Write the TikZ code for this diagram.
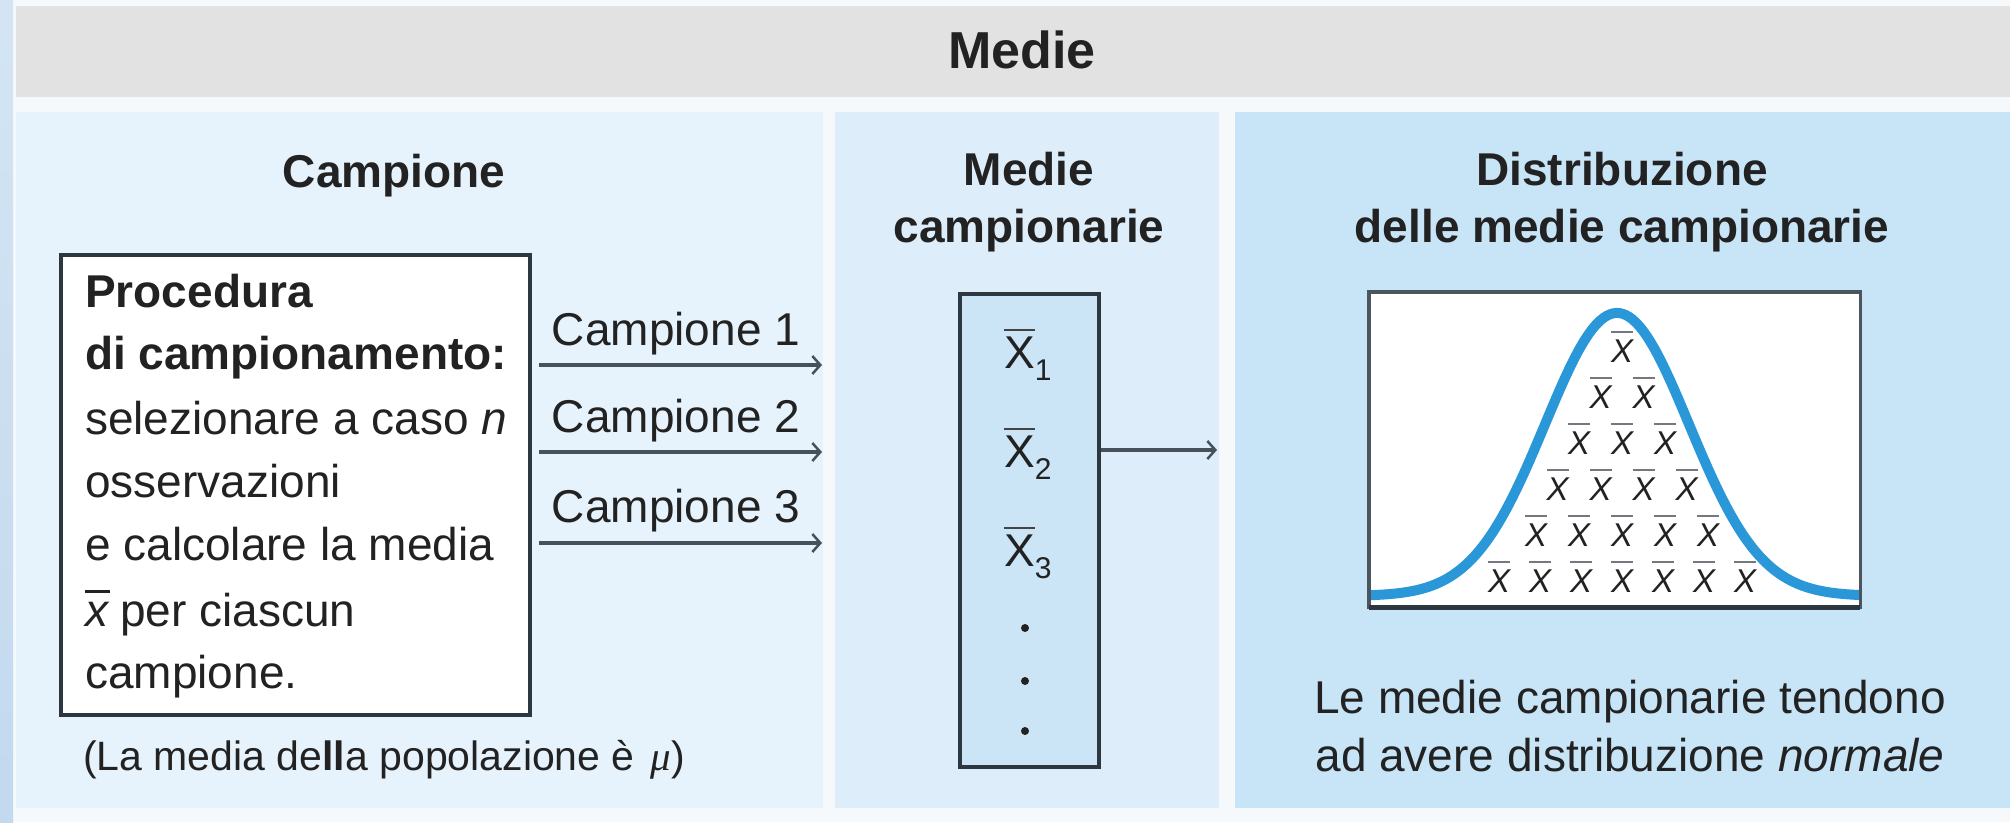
\documentclass[tikz,border=0pt]{standalone}
\usepackage{fontspec}
\setmainfont{Liberation Sans}
\newfontfamily\greekserif{Liberation Serif}
\usetikzlibrary{arrows.meta}

\definecolor{pagebg}{HTML}{F5F9FC}
\definecolor{stripblue}{HTML}{C2D9EE}
\definecolor{titlegray}{HTML}{E2E2E2}
\definecolor{leftpanel}{HTML}{E6F3FC}
\definecolor{midpanel}{HTML}{DDEEFA}
\definecolor{rightpanel}{HTML}{C8E4F7}
\definecolor{meanfill}{HTML}{CBE5F7}
\definecolor{frame}{HTML}{2D3740}
\definecolor{arrowgray}{HTML}{46515B}
\definecolor{curveblue}{HTML}{2A97D8}
\definecolor{ink}{HTML}{222222}
\definecolor{bargray}{HTML}{72787E}

% letter with a bar over it: [gap]{bar colour}{content}
\newcommand\barred[3][5pt]{\vbox{{\color{#2}\hrule height 2.6pt}\kern#1\hbox{#3}}}

\tikzset{
  titletext/.style={font=\fontsize{52}{52}\selectfont\bfseries, text=ink, inner sep=0pt, anchor=base},
  heading/.style={font=\fontsize{46}{57}\selectfont\bfseries, text=ink, inner sep=0pt, anchor=base},
  body/.style={font=\fontsize{46}{63}\selectfont, text=ink, inner sep=0pt, anchor=base west},
  bodyb/.style={body, font=\fontsize{46}{63}\selectfont\bfseries},
  label/.style={body, anchor=base},
  flow/.style={draw=arrowgray, line width=3.5pt, shorten <=7pt,
    -{Straight Barb[length=8pt,width=18pt,line width=2.5pt]}},
  panelbox/.style={draw=frame, line width=3.5pt, inner sep=0pt, anchor=north west},
  meanx/.style={font=\fontsize{46}{46}\selectfont, text=ink, inner sep=0pt, anchor=base west},
  px/.style={font=\fontsize{33}{33}\selectfont\itshape, text=ink, inner sep=0pt, anchor=base},
  dot/.style={circle, fill=ink, inner sep=0pt, minimum size=8pt},
}

\begin{document}
\begin{tikzpicture}[x=1pt,y=-1pt]
\useasboundingbox (0,0) rectangle (2010,822);

% page background and left edge strip
\fill[pagebg] (0,0) rectangle (2010,822);
\shade[top color=stripblue!70, bottom color=stripblue] (0,0) rectangle (13,822);

% title bar
\fill[titlegray] (16,6) rectangle (2010,97);
\node[titletext] (title) at (1022,68) {Medie};

% the three panels
\fill[leftpanel] (16,112) rectangle (823,808);
\fill[midpanel] (835,112) rectangle (1219,808);
\fill[rightpanel] (1235,112) rectangle (2010,808);

% ---- left panel: sampling procedure
\node[heading] (hcamp) at (394,187) {Campione};
\node[panelbox, fill=white, minimum width=469pt, minimum height=460pt] (proc) at (59,253) {};
\node[bodyb] (p1) at (85,307) {Procedura};
\node[bodyb] (p2) at (85,369) {di campionamento:};
\node[body] (p3) at (85,434) {selezionare a caso \textit{n}};
\node[body] (p4) at (85,497) {osservazioni};
\node[body] (p5) at (85,560) {e calcolare la media};
\node[body] (p6) at (85,626) {\barred[9pt]{ink}{\textit{x}}\hspace{-2pt} per ciascun};
\node[body] (p7) at (85,688) {campione.};

\node[body, font=\fontsize{41}{41}\selectfont] (pop) at (83,770)
  {(La media de\textbf{ll}a popolazione è\hspace{16pt}{\greekserif\itshape μ})};

% samples leaving the procedure
\coordinate (a1) at (822,365);
\coordinate (a2) at (822,452);
\coordinate (a3) at (822,543);
\node[label] (c1) at (676,345) {Campione 1};
\node[label] (c2) at (676,432) {Campione 2};
\node[label] (c3) at (676,522) {Campione 3};
\draw[flow] (proc.east |- a1) -- (a1);
\draw[flow] (proc.east |- a2) -- (a2);
\draw[flow] (proc.east |- a3) -- (a3);

% ---- middle panel: sample means
\node[heading] (hm1) at (1029,185) {Medie};
\node[heading] (hm2) at (1029,242) {campionarie};
\node[panelbox, fill=meanfill, minimum width=139pt, minimum height=473pt] (mbox) at (958,292) {};
\node[meanx] (xb1) at (1004,368) {\barred[5pt]{ink!85}{X}\raisebox{-12pt}{\fontsize{30}{30}\selectfont 1}};
\node[meanx] (xb2) at (1004,467) {\barred[5pt]{ink!85}{X}\raisebox{-12pt}{\fontsize{30}{30}\selectfont 2}};
\node[meanx] (xb3) at (1004,566) {\barred[5pt]{ink!85}{X}\raisebox{-12pt}{\fontsize{30}{30}\selectfont 3}};
\node[dot] (d1) at (1025,628) {};
\node[dot] (d2) at (1025,681) {};
\node[dot] (d3) at (1025,731) {};

\coordinate (m2) at (1217,450);
\draw[flow, shorten <=0pt] (mbox.east |- m2) -- (m2);

% ---- right panel: distribution of the sample means
\node[heading] (hd1) at (1622,185) {Distribuzione};
\node[heading] (hd2) at (1622,242) {delle medie campionarie};
\node[fill=white, minimum width=491pt, minimum height=315pt, inner sep=0pt, anchor=north west] (dbox) at (1369,292) {};

\foreach \r/\n/\s in {0/1/43,1/2/43,2/3/43,3/4/43,4/5/43,5/7/41} {
  \foreach \i in {1,...,\n} {
    \pgfmathsetmacro\xx{1622+(\i-(\n+1)/2)*\s}
    \pgfmathsetmacro\yy{362+46*\r}
    \node[px] (x-\r-\i) at (\xx,\yy) {\barred[6pt]{bargray}{X}};
  }
}

\begin{scope}
  \clip (dbox.south west) rectangle (dbox.north east);
  \draw[curveblue, line width=10pt, line join=round]
    plot[domain=1362:1867, samples=160, smooth]
    (\x, {596 - 283*exp(-0.5*((\x-1617)/72)^2)});
\end{scope}
\draw[frame!85, line width=3.5pt] (dbox.south west) rectangle (dbox.north east);
\draw[frame, line width=5pt] (dbox.south west) -- (dbox.south east);

\node[label] (cap1) at (1630,713) {Le medie campionarie tendono};
\node[label] (cap2) at (1630,771) {ad avere distribuzione \textit{normale}};
\end{tikzpicture}
\end{document}
